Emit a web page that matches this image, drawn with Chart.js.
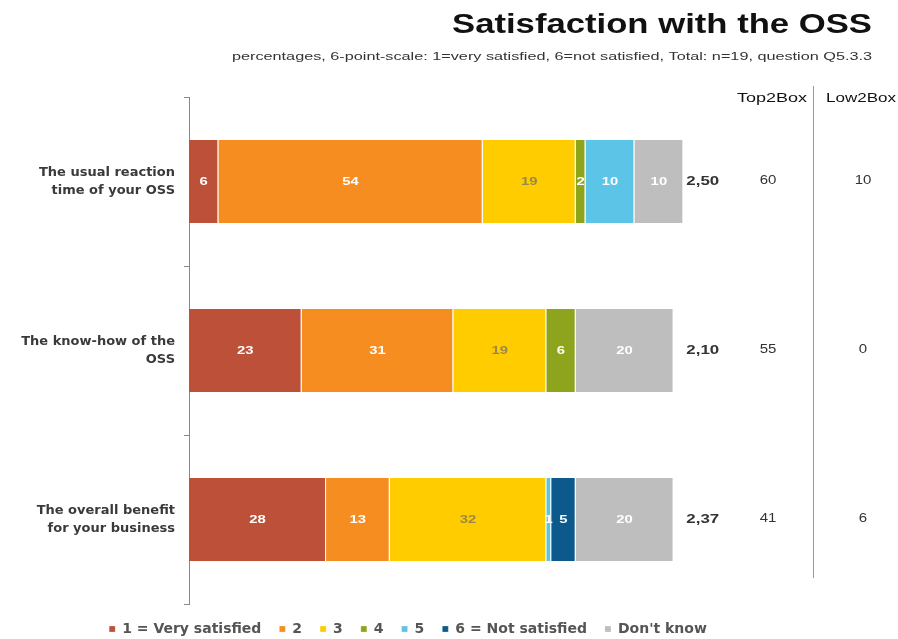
<!DOCTYPE html>
<html>
<head>
<script src="https://cdn.jsdelivr.net/npm/chart.js"></script>
<style>
  body { margin: 0; background: #fff; }
  #wrapper { width: 898px; height: 639px; }
</style>
</head>
<body>
<div id="wrapper"><canvas id="oss"></canvas></div>
<script>
// values (percent)
var categories = [
    ['The usual reaction', 'time of your OSS'],
    ['The know-how of the', 'OSS'],
    ['The overall benefit', 'for your business']
];
var verySatisfied = [6, 23, 28];
var two = [54, 31, 13];
var three = [19, 19, 32];
var four = [2, 6, 0];
var five = [10, 0, 1];
var notSatisfied = [0, 0, 5];
var dontKnow = [10, 20, 20];
var means = ['2,50', '2,10', '2,37'];
var top2Box = [60, 55, 41];
var low2Box = [10, 0, 6];

var FONT = '"Liberation Sans", Arial, sans-serif';
var WIDE = '"DejaVu Sans", Verdana, sans-serif';

function series(label, data, color, textColor) {
    return {
        label: label,
        data: data,
        backgroundColor: color,
        borderColor: '#ffffff',
        borderWidth: { right: 1, left: 0, top: 0, bottom: 0 },
        borderSkipped: false,
        labelColor: textColor
    };
}

// the source picture is stretched sideways, so text gets a horizontal scale
function wideText(ctx, text, x, y, align, sx) {
    ctx.save();
    ctx.translate(x, y);
    ctx.scale(sx, 1);
    ctx.textAlign = align;
    ctx.fillText(text, 0, 0);
    ctx.restore();
}

function fitText(ctx, text, x, y, align, width) {
    wideText(ctx, text, x, y, align, width / ctx.measureText(text).width);
}

var extras = {
    id: 'extras',
    afterDatasetsDraw: function (chart) {
        var ctx = chart.ctx;
        var xs = chart.scales.x, ys = chart.scales.y;
        ctx.save();
        ctx.textBaseline = 'middle';
        ctx.font = 'bold 11px ' + FONT;
        chart.data.datasets.forEach(function (ds, i) {
            var meta = chart.getDatasetMeta(i);
            meta.data.forEach(function (bar, j) {
                var v = ds.data[j];
                if (!v) return;
                ctx.fillStyle = ds.labelColor;
                wideText(ctx, String(v), (bar.x + bar.base) / 2, bar.y, 'center', 1.35);
            });
        });

        // mean values after the bars
        ctx.font = 'bold 13px ' + FONT;
        ctx.fillStyle = '#333';
        means.forEach(function (m, j) {
            wideText(ctx, m, xs.getPixelForValue(101) + 3, ys.getPixelForValue(j), 'left', 1.3);
        });

        // Top2Box / Low2Box columns
        ctx.font = '12px ' + FONT;
        ctx.fillStyle = '#333';
        top2Box.forEach(function (v, j) {
            wideText(ctx, String(v), 768, ys.getPixelForValue(j) - 1, 'center', 1.25);
        });
        low2Box.forEach(function (v, j) {
            wideText(ctx, String(v), 863, ys.getPixelForValue(j) - 1, 'center', 1.25);
        });
        ctx.textBaseline = 'alphabetic';
        ctx.fillStyle = '#111';
        fitText(ctx, 'Top2Box', 772, 102, 'center', 70);
        fitText(ctx, 'Low2Box', 861, 102, 'center', 70);

        ctx.strokeStyle = '#999';
        ctx.lineWidth = 1;
        ctx.beginPath();
        ctx.moveTo(813.5, 86);
        ctx.lineTo(813.5, 578);
        ctx.stroke();

        // title + subtitle, right aligned
        ctx.fillStyle = '#111';
        ctx.font = 'bold 27px ' + FONT;
        fitText(ctx, 'Satisfaction with the OSS', 872, 33, 'right', 420);
        ctx.font = '11px ' + FONT;
        ctx.fillStyle = '#333';
        fitText(ctx, 'percentages, 6-point-scale: 1=very satisfied, 6=not satisfied, Total: n=19, question Q5.3.3', 872, 60, 'right', 640);
        ctx.restore();
    }
};

new Chart('oss', {
    type: 'bar',
    data: {
        labels: categories,
        datasets: [
            series('1 = Very satisfied', verySatisfied, '#BD5038', '#ffffff'),
            series('2', two, '#F68D21', '#ffffff'),
            series('3', three, '#FFCC00', '#9a8848'),
            series('4', four, '#8DA41C', '#ffffff'),
            series('5', five, '#5CC4E6', '#ffffff'),
            series('6 = Not satisfied', notSatisfied, '#0C5A8C', '#ffffff'),
            series("Don't know", dontKnow, '#BEBEBE', '#ffffff')
        ]
    },
    options: {
        indexAxis: 'y',
        responsive: true,
        maintainAspectRatio: false,
        animation: false,
        datasets: {
            bar: { barPercentage: 0.49, categoryPercentage: 1 }
        },
        layout: {
            padding: { top: 97, right: 82, bottom: -7, left: 0 }
        },
        plugins: {
            legend: {
                position: 'bottom',
                labels: {
                    boxWidth: 6,
                    boxHeight: 6,
                    padding: 18,
                    color: '#555',
                    font: { family: WIDE, size: 14, weight: 'bold' }
                }
            },
            tooltip: { enabled: false }
        },
        scales: {
            x: {
                stacked: true,
                display: false,
                min: 0,
                max: 128.1
            },
            y: {
                stacked: true,
                afterFit: function (scale) { scale.width = 189; },
                border: { display: true, color: '#888', width: 1 },
                grid: {
                    offset: true,
                    drawOnChartArea: false,
                    tickLength: 5,
                    color: '#888'
                },
                ticks: {
                    padding: 9,
                    color: '#3a3a3a',
                    font: { family: WIDE, size: 13, weight: 'bold', lineHeight: 1.4 }
                }
            }
        }
    },
    plugins: [extras]
});
</script>
</body>
</html>
